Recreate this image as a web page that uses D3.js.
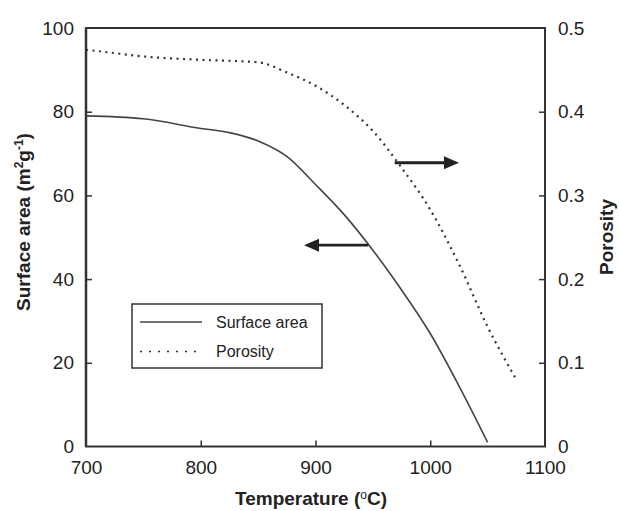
<!DOCTYPE html>
<html>
<head>
<meta charset="utf-8">
<script src="https://cdn.jsdelivr.net/npm/d3@7"></script>
<style>
  html, body { margin: 0; padding: 0; background: #fff; }
  svg { display: block; }
  text { font-family: "Liberation Sans", Arial, sans-serif; fill: #222; }
</style>
</head>
<body>
<svg id="chart" width="619" height="511"></svg>
<script>
// Calcination temperature (°C)
const temperature = [700, 750, 800, 825, 850, 875, 900, 925, 950, 975, 1000, 1025, 1050];
// BET surface area (m2/g) at each temperature
const surfaceArea = [79.0, 78.3, 76.0, 75.0, 73.0, 69.3, 62.6, 55.4, 46.9, 37.4, 27.0, 14.5, 1.0];

const porosityTemp = [700, 725, 750, 800, 850, 875, 900, 925, 950, 975, 1000, 1025, 1050, 1075];
const porosity = [0.474, 0.470, 0.466, 0.462, 0.459, 0.447, 0.431, 0.408, 0.377, 0.333, 0.283, 0.218, 0.143, 0.080];

const xTicks = [700, 800, 900, 1000, 1100];
const yLeftTicks = [0, 20, 40, 60, 80, 100];
const yRightTicks = [0, 0.1, 0.2, 0.3, 0.4, 0.5];

// Arrows pointing each curve to its own axis: [fromTemp, toTemp, value]
const surfaceArrow = [946, 890, 48.1];
const porosityArrow = [969, 1025, 0.339];

const svg = d3.select("#chart");
const m = { left: 86, right: 545, top: 28, bottom: 446.5 };

const x = d3.scaleLinear().domain([700, 1100]).range([m.left, m.right]);
const yL = d3.scaleLinear().domain([0, 100]).range([m.bottom, m.top]);
const yR = d3.scaleLinear().domain([0, 0.5]).range([m.bottom, m.top]);

const ink = "#333";
const tickFont = "19px";

// Frame
svg.append("rect")
  .attr("x", m.left).attr("y", m.top)
  .attr("width", m.right - m.left).attr("height", m.bottom - m.top)
  .attr("fill", "none").attr("stroke", ink).attr("stroke-width", 2);

// Axes with inward ticks
const styleAxis = g => {
  g.select(".domain").remove();
  g.selectAll(".tick line").attr("stroke", ink).attr("stroke-width", 1.5);
  g.selectAll(".tick text").style("font-size", tickFont).attr("fill", "#222");
};

svg.append("g")
  .attr("transform", `translate(0,${m.bottom})`)
  .call(d3.axisBottom(x).tickValues(xTicks).tickFormat(d3.format("d"))
    .tickSizeInner(-6).tickSizeOuter(0).tickPadding(14))
  .call(styleAxis)
  .call(g => g.selectAll(".tick line").filter(d => d === 700 || d === 1100).remove());

svg.append("g")
  .attr("transform", `translate(${m.left},0)`)
  .call(d3.axisLeft(yL).tickValues(yLeftTicks).tickFormat(d3.format("d"))
    .tickSizeInner(-6).tickSizeOuter(0).tickPadding(12))
  .call(styleAxis)
  .call(g => g.selectAll(".tick line").filter(d => d === 0 || d === 100).remove());

svg.append("g")
  .attr("transform", `translate(${m.right},0)`)
  .call(d3.axisRight(yR).tickValues(yRightTicks).tickFormat(d => d === 0 ? "0" : d3.format(".1f")(d))
    .tickSizeInner(-6).tickSizeOuter(0).tickPadding(13))
  .call(styleAxis)
  .call(g => g.selectAll(".tick line").filter(d => d === 0 || d === 0.5).remove());

// Left axis stroke a touch heavier
svg.append("line")
  .attr("x1", m.left).attr("x2", m.left).attr("y1", m.top).attr("y2", m.bottom)
  .attr("stroke", ink).attr("stroke-width", 2.5);

// Curves
const surfLine = d3.line()
  .x((d, i) => x(temperature[i])).y(d => yL(d))
  .curve(d3.curveMonotoneX);
svg.append("path")
  .attr("d", surfLine(surfaceArea))
  .attr("fill", "none").attr("stroke", "#444").attr("stroke-width", 1.6);

const poroLine = d3.line()
  .x((d, i) => x(porosityTemp[i])).y(d => yR(d))
  .curve(d3.curveMonotoneX);
svg.append("path")
  .attr("d", poroLine(porosity))
  .attr("fill", "none").attr("stroke", "#333").attr("stroke-width", 2.2)
  .attr("stroke-dasharray", "2,4.5");

// Arrows
const drawArrow = (x1, x2, yy) => {
  const dir = Math.sign(x2 - x1);
  const headLen = 15, headHalf = 6.5;
  svg.append("line")
    .attr("x1", x1).attr("x2", x2 - dir * headLen + dir * 1)
    .attr("y1", yy).attr("y2", yy)
    .attr("stroke", "#222").attr("stroke-width", 2.8);
  svg.append("path")
    .attr("d", `M${x2},${yy} L${x2 - dir * headLen},${yy - headHalf} L${x2 - dir * headLen},${yy + headHalf} Z`)
    .attr("fill", "#222");
};
drawArrow(x(surfaceArrow[0]), x(surfaceArrow[1]), yL(surfaceArrow[2]));
drawArrow(x(porosityArrow[0]), x(porosityArrow[1]), yR(porosityArrow[2]));

// Legend
const leg = svg.append("g");
leg.append("rect")
  .attr("x", 132).attr("y", 304).attr("width", 190).attr("height", 64)
  .attr("fill", "#fff").attr("stroke", ink).attr("stroke-width", 1.5);
leg.append("line")
  .attr("x1", 140).attr("x2", 202).attr("y1", 322).attr("y2", 322)
  .attr("stroke", "#444").attr("stroke-width", 1.6);
leg.append("line")
  .attr("x1", 140).attr("x2", 202).attr("y1", 351.5).attr("y2", 351.5)
  .attr("stroke", "#333").attr("stroke-width", 1.6).attr("stroke-dasharray", "2,7");
leg.append("text").attr("x", 216).attr("y", 328).style("font-size", "16px").text("Surface area");
leg.append("text").attr("x", 216).attr("y", 357).style("font-size", "16px").text("Porosity");

// Axis titles
const xt = svg.append("text")
  .attr("x", 311).attr("y", 505)
  .attr("text-anchor", "middle")
  .style("font-size", "19px").style("font-weight", "bold");
xt.append("tspan").text("Temperature (");
xt.append("tspan").text("o").style("font-size", "12px").style("font-weight", "normal").attr("dy", -6);
xt.append("tspan").text("C)").attr("dy", 6);

const yt = svg.append("text")
  .attr("transform", "translate(30,222) rotate(-90)")
  .attr("text-anchor", "middle")
  .style("font-size", "19px").style("font-weight", "bold");
yt.append("tspan").text("Surface area (m");
yt.append("tspan").text("2").style("font-size", "12px").attr("dy", -7);
yt.append("tspan").text("g").attr("dy", 7);
yt.append("tspan").text("-1").style("font-size", "12px").attr("dy", -7);
yt.append("tspan").text(")").attr("dy", 7);

svg.append("text")
  .attr("transform", "translate(613,237) rotate(-90)")
  .attr("text-anchor", "middle")
  .style("font-size", "19px").style("font-weight", "bold")
  .text("Porosity");
</script>
</body>
</html>
